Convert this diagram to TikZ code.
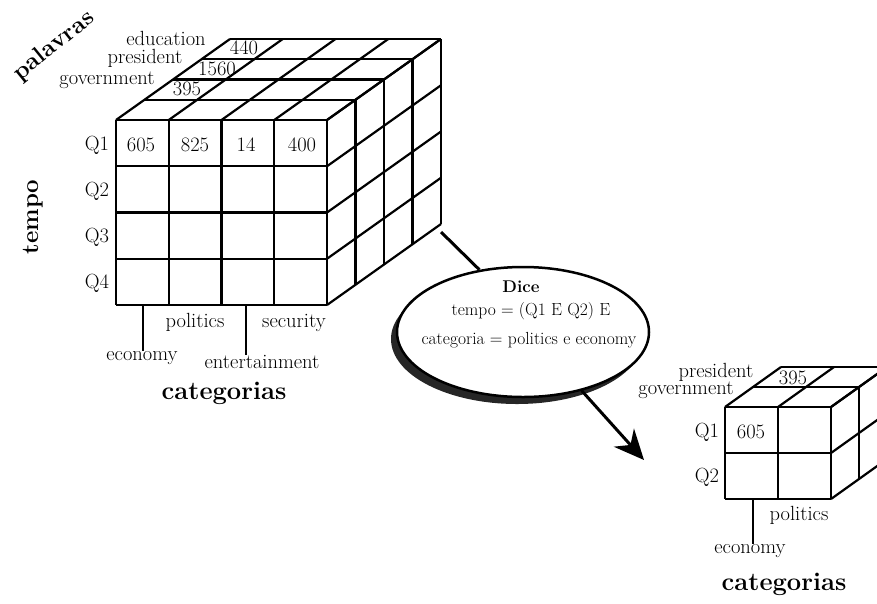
\documentclass[tikz,border=0pt]{standalone}
\usepackage{fontspec}
\usetikzlibrary{shapes.geometric,shadows,arrows.meta}
\tikzset{
  cubeline/.style={line width=2.2pt, line join=round},
  lbl/.style={font=\fontsize{20.5}{22}\selectfont, inner sep=0pt},
  axislbl/.style={font=\fontsize{24}{26}\selectfont\bfseries, inner sep=0pt},
  dicetxt/.style={font=\fontsize{17.5}{19}\selectfont, inner sep=0pt},
  dice/.style={ellipse, draw, line width=2.5pt, fill=white,
    minimum width=252pt, minimum height=130pt,
    drop shadow={shadow xshift=-6pt, shadow yshift=-7pt, fill=black, opacity=0.85}},
  flow/.style={line width=3pt},
}
\begin{document}
\begin{tikzpicture}[x=1pt,y=-1pt]
  \clip (0,0) rectangle (877,603);

  % cubo completo
  \foreach \i in {0,...,4} {
    \draw[cubeline] (116+52.75*\i,120) -- ++(0,185);
    \draw[cubeline] (116,120+46.25*\i) -- ++(211,0);
    \draw[cubeline] (116+52.75*\i,120) -- ++(114,-81);
    \draw[cubeline] (327,120+46.25*\i) -- ++(114,-81);
    \draw[cubeline] (116+28.5*\i,120-20.25*\i) -- ++(211,0);
    \draw[cubeline] (327+28.5*\i,120-20.25*\i) -- ++(0,185);
  }

  \node[axislbl, rotate=39] (palavras) at (54,46) {palavras};
  \node[lbl] (education) at (166,38) {education};
  \node[lbl] (president) at (145,58) {president};
  \node[lbl] (government) at (107,80) {government};
  \node[lbl] (v440) at (244,48) {440};
  \node[lbl] (v1560) at (217,69) {1560};
  \node[lbl] (v395) at (187,89) {395};

  \node[axislbl, rotate=90] (tempo) at (33,217) {tempo};
  \node[lbl] (q1) at (97,145) {Q1};
  \node[lbl] (q2) at (97,191) {Q2};
  \node[lbl] (q3) at (97,237) {Q3};
  \node[lbl] (q4) at (97,283) {Q4};

  \node[lbl] (v605) at (141,145) {605};
  \node[lbl] (v825) at (195,145) {825};
  \node[lbl] (v14) at (246,145) {14};
  \node[lbl] (v400) at (302,145) {400};

  \node[lbl] (politics) at (195,322) {politics};
  \node[lbl] (security) at (294,323) {security};
  \node[lbl] (economy) at (142,358) {economy};
  \node[lbl] (entertainment) at (262,362) {entertainment};
  \node[axislbl, font=\fontsize{25.5}{27}\selectfont\bfseries] (categorias) at (224,393) {categorias};

  \draw[cubeline] (143,305) -- (143,305 |- economy.north);
  \draw[cubeline] (246,305) -- (246,305 |- entertainment.north);

  % operacao dice
  \node[dice] (dice) at (523,332) {};
  \node[dicetxt, font=\fontsize{17}{19}\selectfont\bfseries] (dicetitle) at (521,287) {Dice};
  \node[dicetxt] (dicetempo) at (531,311) {tempo = (Q1 E Q2) E};
  \node[dicetxt] (dicecat) at (529,340) {categoria = politics e economy};

  \coordinate (cubecorner) at (441,232);
  \coordinate (tip) at (644,460);
  \draw[flow] (cubecorner) -- (dice.125);
  \draw[flow, -{Stealth[length=30pt,width=27pt]}] (dice.-45) -- (tip);

  % sub-cubo
  \foreach \i in {0,1,2} {
    \draw[cubeline] (725+53*\i,407) -- ++(0,92);
    \draw[cubeline] (725,407+46*\i) -- ++(106,0);
    \draw[cubeline] (725+53*\i,407) -- ++(56,-40);
    \draw[cubeline] (831,407+46*\i) -- ++(56,-40);
    \draw[cubeline] (725+28*\i,407-20*\i) -- ++(106,0);
    \draw[cubeline] (831+28*\i,407-20*\i) -- ++(0,92);
  }

  \node[lbl] (spresident) at (716,372) {president};
  \node[lbl] (sgovernment) at (686,390) {government};
  \node[lbl] (s395) at (793,378) {395};
  \node[lbl] (sq1) at (707,432) {Q1};
  \node[lbl] (sq2) at (707,477) {Q2};
  \node[lbl] (s605) at (751,432) {605};
  \node[lbl] (spolitics) at (799,515) {politics};
  \node[lbl] (seconomy) at (750,551) {economy};
  \node[axislbl, font=\fontsize{25.5}{27}\selectfont\bfseries] (scategorias) at (784,584) {categorias};

  \draw[cubeline] (753,499) -- (753,499 |- seconomy.north);
\end{tikzpicture}
\end{document}
